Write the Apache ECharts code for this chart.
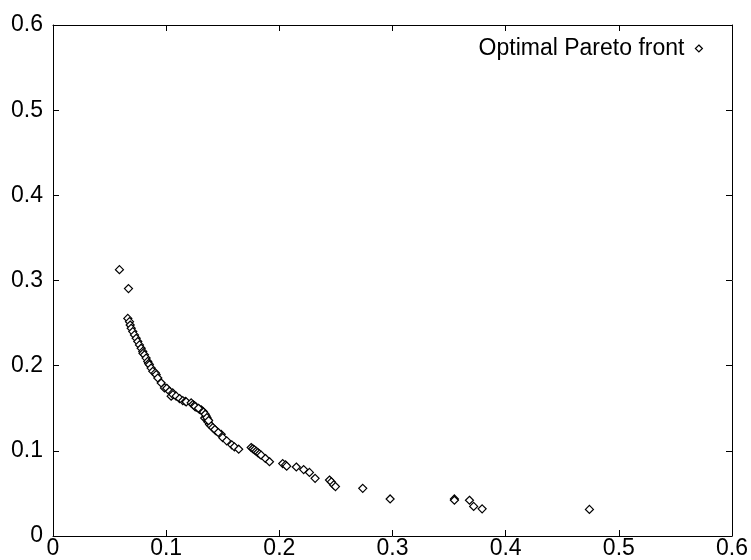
<!DOCTYPE html>
<html>
<head>
<meta charset="utf-8">
<script src="https://cdn.jsdelivr.net/npm/echarts@6/dist/echarts.min.js"></script>
<style>html,body{margin:0;padding:0;background:#fff;}#c{width:751px;height:560px;}</style>
</head>
<body>
<div id="c"></div>
<script>
const seriesName = "Optimal Pareto front";
const xTicks = [0, 0.1, 0.2, 0.3, 0.4, 0.5, 0.6];
const yTicks = [0, 0.1, 0.2, 0.3, 0.4, 0.5, 0.6];
const xValues = [
  0.0587, 0.0667, 0.0661, 0.0676, 0.0682, 0.0691, 0.0705, 0.0720, 0.0735, 0.0749,
  0.0764, 0.0779, 0.0793, 0.0795, 0.0808, 0.0823, 0.0837, 0.0845, 0.0852, 0.0867,
  0.0882, 0.0905, 0.0912, 0.0926, 0.0956, 0.0985, 0.1005, 0.1029, 0.1044, 0.1058,
  0.1060, 0.1088, 0.1118, 0.1147, 0.1170, 0.1177, 0.1221, 0.1235, 0.1250, 0.1265,
  0.1294, 0.1310, 0.1323, 0.1340, 0.1353, 0.1368, 0.1370, 0.1383, 0.1395, 0.1412,
  0.1442, 0.1486, 0.1500, 0.1535, 0.1580, 0.1603, 0.1641, 0.1751, 0.1765, 0.1780,
  0.1795, 0.1809, 0.1825, 0.1839, 0.1877, 0.1913, 0.2030, 0.2055, 0.2065, 0.2150,
  0.2215, 0.2266, 0.2316, 0.2443, 0.2460, 0.2480, 0.2496, 0.2737, 0.2979, 0.3547,
  0.3547, 0.3680, 0.3717, 0.3792, 0.4740,
  0.1255, 0.1285, 0.1330, 0.1345, 0.1360, 0.1375, 0.1430, 0.1460
];
const yValues = [
  0.3127, 0.2905, 0.2555, 0.2517, 0.2477, 0.2439, 0.2400, 0.2361, 0.2322, 0.2284,
  0.2244, 0.2205, 0.2167, 0.2145, 0.2127, 0.2089, 0.2050, 0.2025, 0.2011, 0.1972,
  0.1933, 0.1915, 0.1894, 0.1855, 0.1797, 0.1739, 0.1735, 0.1700, 0.1642, 0.1680,
  0.1660, 0.1642, 0.1614, 0.1590, 0.1580, 0.1575, 0.1564, 0.1544, 0.1530, 0.1513,
  0.1486, 0.1480, 0.1467, 0.1385, 0.1408, 0.1369, 0.1340, 0.1310, 0.1295, 0.1272,
  0.1233, 0.1194, 0.1155, 0.1117, 0.1070, 0.1047, 0.1019, 0.1039, 0.1025, 0.1012,
  0.0995, 0.0980, 0.0965, 0.0949, 0.0910, 0.0872, 0.0850, 0.0835, 0.0820, 0.0810,
  0.0780, 0.0747, 0.0677, 0.0657, 0.0635, 0.0600, 0.0580, 0.0560, 0.0435, 0.0435,
  0.0420, 0.0420, 0.0347, 0.0319, 0.0312,
  0.1520, 0.1500, 0.1455, 0.1430, 0.1390, 0.1355, 0.1250, 0.1215
];

const points = xValues.map((x, i) => [x, yValues[i]]);
const font = "Liberation Sans, Arial, sans-serif";
const fs = 23;

function axisBase(showLabels, pos) {
  return {
    min: 0, max: 0.6, interval: 0.1,
    position: pos,
    axisLine: { show: true, onZero: false, lineStyle: { color: '#000', width: 1 } },
    axisTick: { show: true, inside: true, length: 6, lineStyle: { color: '#000', width: 1 } },
    splitLine: { show: false },
    axisLabel: showLabels ? {
      show: true, color: '#000', fontSize: fs, fontFamily: font,
      formatter: v => String(+v.toFixed(1))
    } : { show: false }
  };
}

const xMain = Object.assign(axisBase(true, 'bottom'), { type: 'value' });
xMain.axisLabel.margin = 1;
const xTop = Object.assign(axisBase(false, 'top'), { type: 'value' });
const yMain = Object.assign(axisBase(true, 'left'), { type: 'value' });
yMain.axisLabel.margin = 10;
const yRight = Object.assign(axisBase(false, 'right'), { type: 'value' });

const chart = echarts.init(document.getElementById('c'), null, { renderer: 'canvas' });
chart.setOption({
  animation: false,
  backgroundColor: '#fff',
  grid: { left: 53, top: 25, right: 18, bottom: 21, containLabel: false },
  legend: {
    show: true,
    right: 43, top: 32,
    align: 'right',
    itemWidth: 7, itemHeight: 7, itemGap: 10,
    textStyle: { color: '#000', fontSize: fs, fontFamily: font, padding: [0, 6, 0, 0] },
    data: [{ name: seriesName, icon: 'diamond', itemStyle: { color: '#fff', borderColor: '#000', borderWidth: 1.2 } }]
  },
  xAxis: [xMain, xTop],
  yAxis: [yMain, yRight],
  series: [{
    name: seriesName,
    type: 'scatter',
    xAxisIndex: 0, yAxisIndex: 0,
    symbol: 'diamond',
    symbolSize: 8,
    itemStyle: { color: '#fff', borderColor: '#000', borderWidth: 1.2, opacity: 1 },
    data: points
  }]
});
</script>
</body>
</html>
